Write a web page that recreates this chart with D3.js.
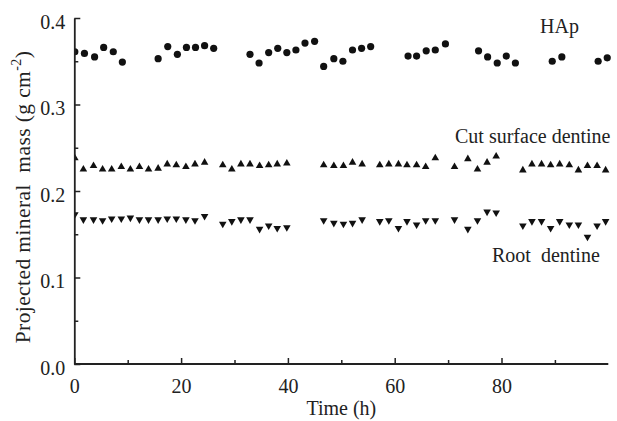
<!DOCTYPE html>
<html>
<head>
<meta charset="utf-8">
<script src="https://cdn.jsdelivr.net/npm/d3@7"></script>
<style>
  html, body { margin: 0; padding: 0; background: #fff; }
  svg text { font-family: "Liberation Serif", "DejaVu Serif", serif; fill: #222; }
</style>
</head>
<body>
<div id="chart"></div>
<script>
// HAp (circles)
const hapTime = [0.1, 1.9, 3.8, 5.5, 7.3, 9.0, 15.7, 17.5, 19.3, 21.0, 22.7, 24.4, 26.1,
  32.9, 34.6, 36.4, 38.1, 39.8, 41.5, 43.2, 45.0, 46.7, 48.6, 50.3, 52.1, 53.8, 55.5,
  62.5, 64.1, 65.9, 67.6, 69.5, 75.7, 77.4, 79.2, 80.9, 82.6, 89.5, 91.3, 98.1, 99.8];
const hapMass = [0.361, 0.359, 0.355, 0.366, 0.361, 0.349, 0.353, 0.367, 0.358, 0.366, 0.366, 0.368, 0.365,
  0.358, 0.348, 0.360, 0.365, 0.360, 0.363, 0.371, 0.373, 0.344, 0.353, 0.350, 0.363, 0.365, 0.367,
  0.356, 0.356, 0.362, 0.363, 0.370, 0.362, 0.355, 0.348, 0.356, 0.348, 0.350, 0.355, 0.350, 0.354];

// cut surface dentine (up triangles) and root dentine (down triangles), same times
const dentTime = [0.1, 1.7, 3.6, 5.3, 7.0, 8.8, 10.5, 12.2, 13.9, 15.7, 17.4, 19.1, 20.9, 22.6, 24.4,
  27.8, 29.5, 31.2, 32.9, 34.7, 36.4, 38.0, 39.8,
  46.7, 48.6, 50.4, 52.1, 53.9,
  57.2, 58.9, 60.7, 62.3, 64.1, 65.8, 67.6,
  71.2, 73.7, 75.5, 77.3, 79.0,
  84.0, 85.7, 87.5, 89.2, 90.9, 92.7, 94.4, 96.1, 97.9, 99.5];
const cutMass = [0.238, 0.225, 0.229, 0.225, 0.225, 0.228, 0.225, 0.228, 0.225, 0.226, 0.231, 0.230, 0.228, 0.231, 0.233,
  0.230, 0.225, 0.231, 0.231, 0.229, 0.230, 0.231, 0.232,
  0.230, 0.229, 0.229, 0.233, 0.231,
  0.230, 0.231, 0.231, 0.230, 0.230, 0.228, 0.238,
  0.228, 0.237, 0.225, 0.233, 0.240,
  0.224, 0.231, 0.231, 0.230, 0.231, 0.230, 0.224, 0.229, 0.229, 0.224];
const rootMass = [0.173, 0.167, 0.167, 0.166, 0.168, 0.168, 0.169, 0.167, 0.167, 0.167, 0.168, 0.168, 0.167, 0.166, 0.171,
  0.162, 0.165, 0.167, 0.167, 0.156, 0.160, 0.157, 0.158,
  0.166, 0.163, 0.162, 0.163, 0.167,
  0.165, 0.166, 0.157, 0.165, 0.161, 0.166, 0.166,
  0.167, 0.156, 0.166, 0.176, 0.175,
  0.160, 0.165, 0.165, 0.157, 0.165, 0.161, 0.161, 0.147, 0.160, 0.165];

const xMajor = [0, 20, 40, 60, 80];
const xMinor = [10, 30, 50, 70, 90];
const yMajor = [0, 0.1, 0.2, 0.3, 0.4];
const yMinor = [0.05, 0.15, 0.25, 0.35];

const W = 617, H = 421;
const svg = d3.select("#chart").append("svg").attr("width", W).attr("height", H);

const x = d3.scaleLinear().domain([0, 100]).range([74.3, 608.3]);
const y = d3.scaleLinear().domain([0, 0.4]).range([364, 18]);

svg.append("defs").append("clipPath").attr("id", "plot")
  .append("rect").attr("x", x(0)).attr("y", 0).attr("width", W - x(0)).attr("height", y(0));

const marks = svg.append("g").attr("clip-path", "url(#plot)");

marks.selectAll("circle.hap").data(hapTime).join("circle")
  .attr("class", "hap")
  .attr("cx", d => x(d)).attr("cy", (d, i) => y(hapMass[i]))
  .attr("r", 3.6).attr("fill", "#111");

const tri = d3.symbol().type(d3.symbolTriangle).size(25);

marks.selectAll("path.cut").data(dentTime).join("path")
  .attr("class", "cut")
  .attr("d", tri)
  .attr("transform", (d, i) => `translate(${x(d)},${y(cutMass[i])})`)
  .attr("fill", "#111");

marks.selectAll("path.root").data(dentTime).join("path")
  .attr("class", "root")
  .attr("d", tri)
  .attr("transform", (d, i) => `translate(${x(d)},${y(rootMass[i])}) rotate(180)`)
  .attr("fill", "#111");

// axes, ticks pointing inward
const fmtY = d3.format(".1f");
const gx = svg.append("g").attr("transform", `translate(0,${y(0)})`)
  .call(d3.axisBottom(x).tickValues(xMajor).tickSize(-6).tickPadding(15).tickSizeOuter(0));
const gxm = svg.append("g").attr("transform", `translate(0,${y(0)})`)
  .call(d3.axisBottom(x).tickValues(xMinor).tickSize(-4).tickFormat("").tickSizeOuter(0));
const gy = svg.append("g").attr("transform", `translate(${x(0)},0)`)
  .call(d3.axisLeft(y).tickValues(yMajor).tickSize(-6).tickPadding(9).tickFormat(fmtY).tickSizeOuter(0));
const gym = svg.append("g").attr("transform", `translate(${x(0)},0)`)
  .call(d3.axisLeft(y).tickValues(yMinor).tickSize(-4).tickFormat("").tickSizeOuter(0));

[gx, gxm, gy, gym].forEach(g => {
  g.select(".domain").attr("stroke", "#222").attr("stroke-width", 1.8);
  g.selectAll(".tick line").attr("stroke", "#222").attr("stroke-width", 1.5);
  g.selectAll(".tick text").attr("font-family", "Liberation Serif").attr("font-size", 20).attr("fill", "#222");
});
gy.selectAll(".tick text").attr("dy", "0.5em");
// x axis line runs to the end of the range
gx.select(".domain").attr("d", `M${x(0)},0H${x(100)}`);
gxm.select(".domain").remove();
gym.select(".domain").remove();

// labels
svg.append("text").attr("x", x(50)).attr("y", 415).attr("text-anchor", "middle")
  .attr("font-size", 20).text("Time (h)");

const yl = svg.append("text")
  .attr("transform", `translate(30,197) rotate(-90)`)
  .attr("text-anchor", "middle").attr("font-size", 21.5)
  .attr("letter-spacing", 0.4)
  .attr("xml:space", "preserve");
yl.append("tspan").text("Projected mineral  mass (g cm");
yl.append("tspan").attr("font-size", 14).attr("dy", -9).text("-2");
yl.append("tspan").attr("dy", 9).text(")");

svg.append("text").attr("x", 540).attr("y", 33).attr("font-size", 20).text("HAp");
svg.append("text").attr("x", 455).attr("y", 143).attr("font-size", 20).text("Cut surface dentine");
svg.append("text").attr("x", 492).attr("y", 262).attr("font-size", 20)
  .attr("xml:space", "preserve").text("Root  dentine");
</script>
</body>
</html>
